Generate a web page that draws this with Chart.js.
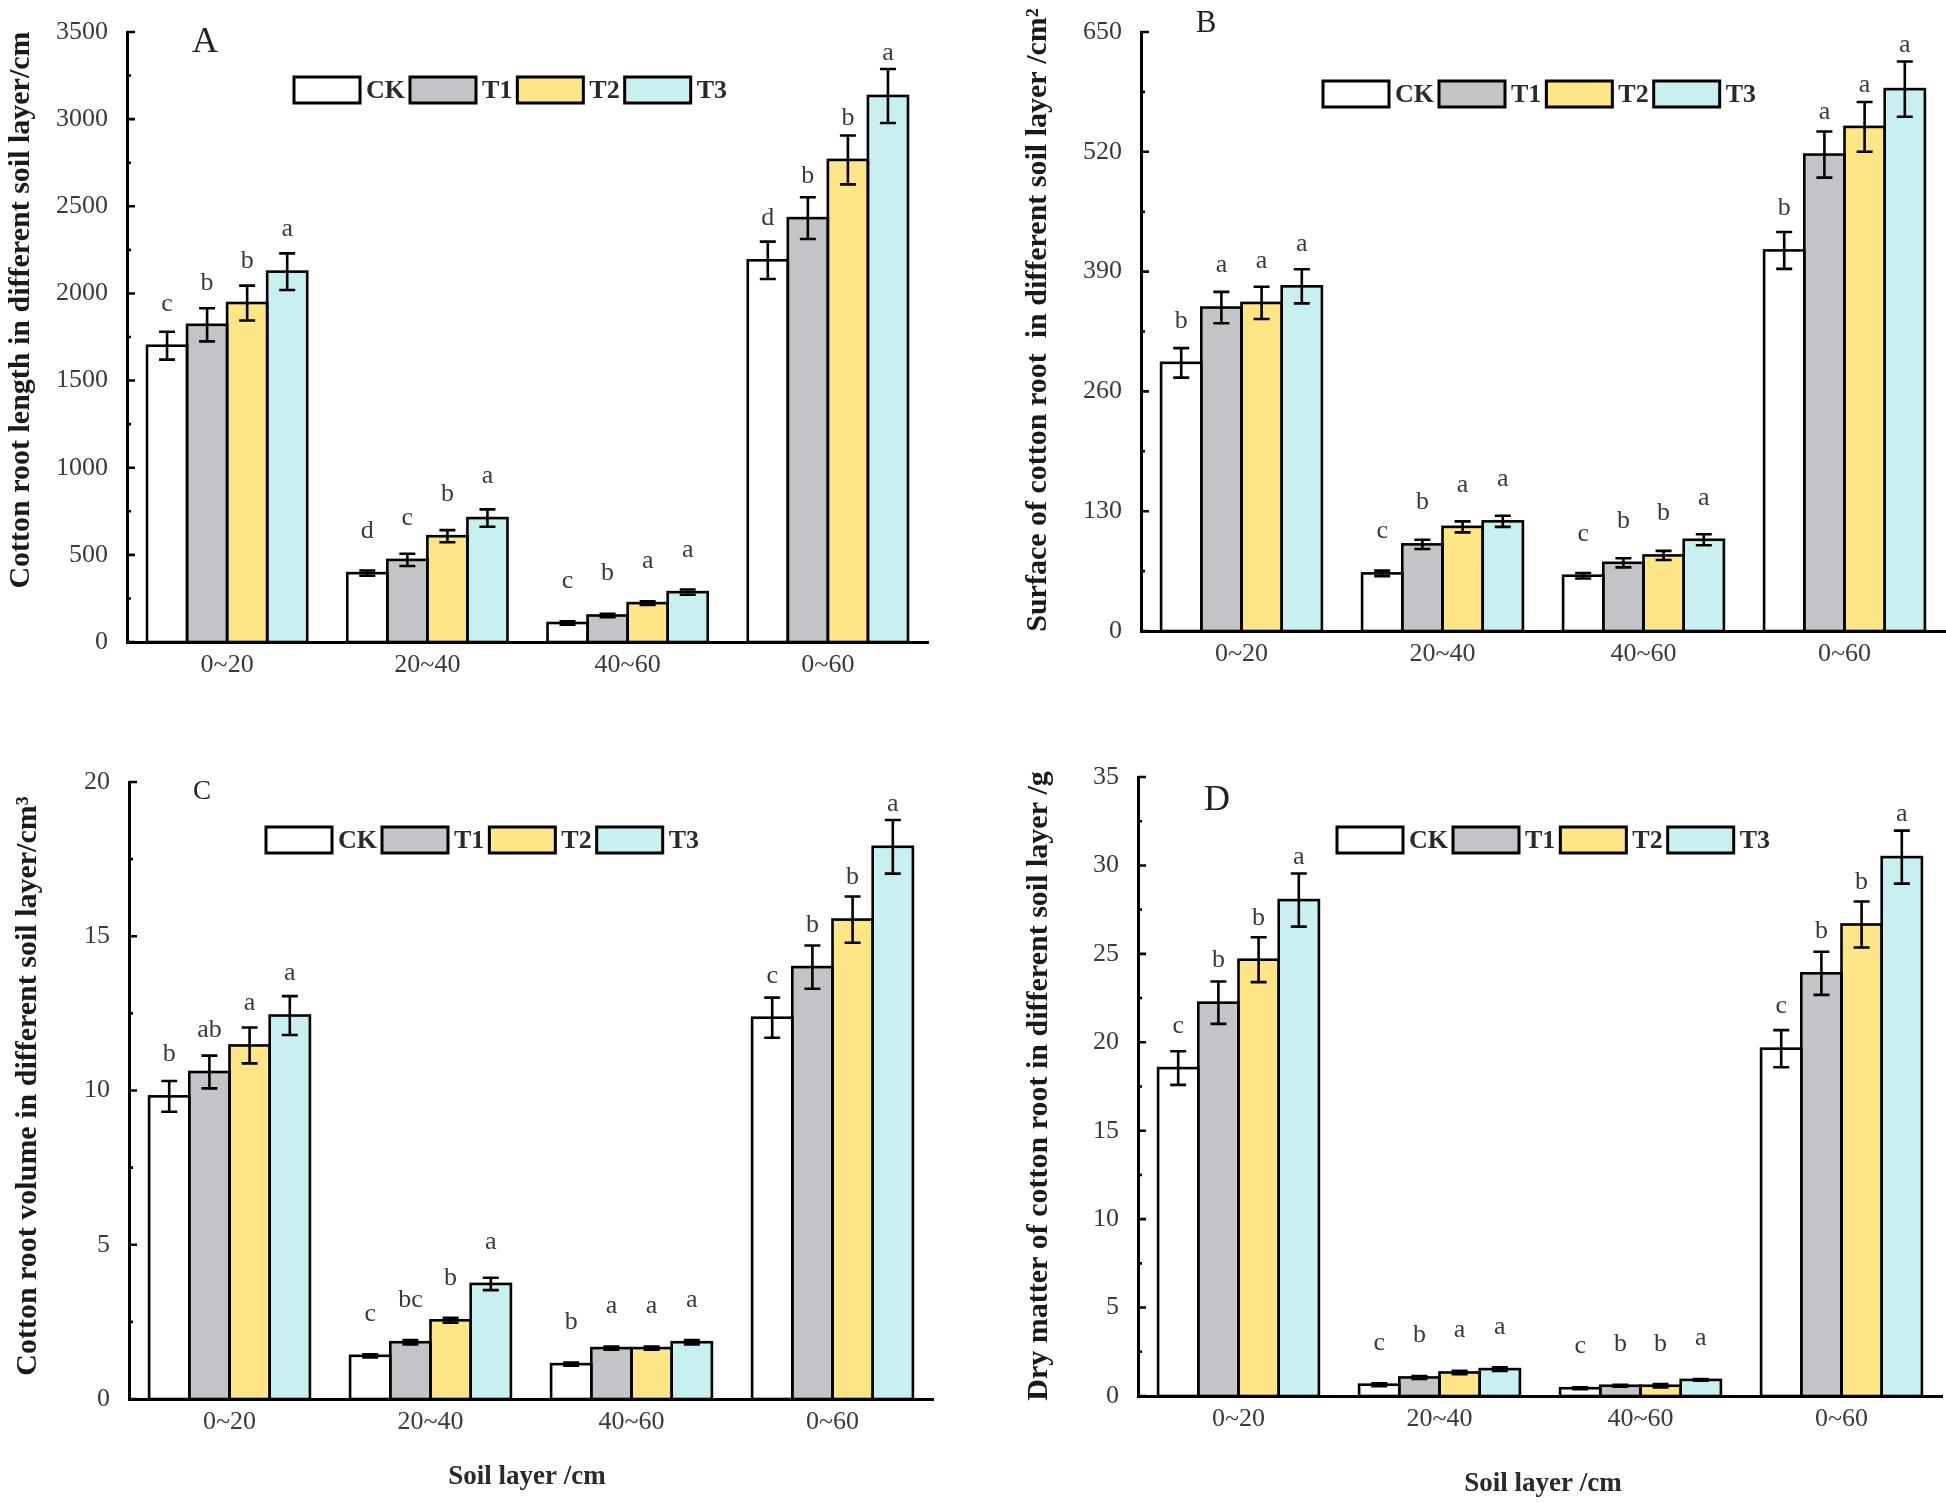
<!DOCTYPE html>
<html>
<head>
<meta charset="utf-8">
<title>Cotton root distribution by soil layer</title>
<script src="https://cdn.jsdelivr.net/npm/chart.js@4.4.1/dist/chart.umd.min.js"></script>
<style>
  html, body { margin: 0; padding: 0; background: #fff; }
  #page { position: relative; width: 1946px; height: 1503px; background: #fff; }
  #page canvas { position: absolute; }
</style>
</head>
<body>
<div id="page">
  <canvas id="chartA" width="973" height="740" style="left:0;top:0"></canvas>
  <canvas id="chartB" width="973" height="740" style="left:973px;top:0"></canvas>
  <canvas id="chartC" width="973" height="763" style="left:0;top:740px"></canvas>
  <canvas id="chartD" width="973" height="763" style="left:973px;top:740px"></canvas>
</div>
<script>
// ---- data ----
const layers = ['0~20', '20~40', '40~60', '0~60'];
const treatments = ['CK', 'T1', 'T2', 'T3'];

// A: root length (cm)
const lengthCK = [1700, 395, 109, 2190];
const lengthT1 = [1820, 471, 152, 2432];
const lengthT2 = [1945, 607, 223, 2766];
const lengthT3 = [2125, 711, 286, 3133];
const lengthErrCK = [80, 15, 10, 107];
const lengthErrT1 = [95, 35, 10, 120];
const lengthErrT2 = [100, 35, 10, 140];
const lengthErrT3 = [105, 50, 15, 155];
const lengthSigCK = ['c', 'd', 'c', 'd'];
const lengthSigT1 = ['b', 'c', 'b', 'b'];
const lengthSigT2 = ['b', 'b', 'a', 'b'];
const lengthSigT3 = ['a', 'a', 'a', 'a'];
const lengthTicks = [0, 500, 1000, 1500, 2000, 2500, 3000, 3500];

// B: root surface (cm2)
const surfaceCK = [291, 62.5, 60, 413];
const surfaceT1 = [351, 94, 74, 517];
const surfaceT2 = [356, 113, 82, 547];
const surfaceT3 = [374, 119, 99, 588];
const surfaceErrCK = [16, 3, 3, 20];
const surfaceErrT1 = [17, 5, 5, 25];
const surfaceErrT2 = [17.5, 6, 5, 27];
const surfaceErrT3 = [18.5, 6, 6, 30];
const surfaceSigCK = ['b', 'c', 'c', 'b'];
const surfaceSigT1 = ['a', 'b', 'b', 'a'];
const surfaceSigT2 = ['a', 'a', 'b', 'a'];
const surfaceSigT3 = ['a', 'a', 'a', 'a'];
const surfaceTicks = [0, 130, 260, 390, 520, 650];

// C: root volume (cm3)
const volumeCK = [9.81, 1.40, 1.13, 12.36];
const volumeT1 = [10.6, 1.84, 1.65, 14.0];
const volumeT2 = [11.46, 2.55, 1.65, 15.54];
const volumeT3 = [12.43, 3.73, 1.84, 17.9];
const volumeErrCK = [0.5, 0.05, 0.05, 0.65];
const volumeErrT1 = [0.53, 0.07, 0.05, 0.7];
const volumeErrT2 = [0.58, 0.08, 0.05, 0.75];
const volumeErrT3 = [0.63, 0.2, 0.07, 0.87];
const volumeSigCK = ['b', 'c', 'b', 'c'];
const volumeSigT1 = ['ab', 'bc', 'a', 'b'];
const volumeSigT2 = ['a', 'b', 'a', 'b'];
const volumeSigT3 = ['a', 'a', 'a', 'a'];
const volumeTicks = [0, 5, 10, 15, 20];

// D: root dry matter (g)
const dryCK = [18.54, 0.64, 0.44, 19.64];
const dryT1 = [22.24, 1.05, 0.58, 23.9];
const dryT2 = [24.67, 1.33, 0.58, 26.66];
const dryT3 = [28.04, 1.52, 0.91, 30.47];
const dryErrCK = [0.95, 0.08, 0.05, 1.05];
const dryErrT1 = [1.2, 0.08, 0.05, 1.22];
const dryErrT2 = [1.27, 0.1, 0.1, 1.3];
const dryErrT3 = [1.5, 0.1, 0.05, 1.5];
const drySigCK = ['c', 'c', 'c', 'c'];
const drySigT1 = ['b', 'b', 'b', 'b'];
const drySigT2 = ['b', 'a', 'b', 'b'];
const drySigT3 = ['a', 'a', 'a', 'a'];
const dryTicks = [0, 5, 10, 15, 20, 25, 30, 35];

const fills = ['#ffffff', '#c4c4c8', '#fee686', '#c9f0f0'];
const SERIF = "'Liberation Serif', 'Times New Roman', serif";

Chart.defaults.font.family = SERIF;

// outlines, error bars, letters, inward ticks, legend, titles
const panelDecor = {
    id: 'panelDecor',
    afterDatasetsDraw(chart) {
        const ctx = chart.ctx;
        const yScale = chart.scales.y;
        ctx.save();
        ctx.strokeStyle = '#000';
        ctx.lineWidth = 2.6;
        chart.data.datasets.forEach((ds, di) => {
            chart.getDatasetMeta(di).data.forEach(bar => {
                const { x, y, base, width } = bar.getProps(['x', 'y', 'base', 'width'], true);
                ctx.strokeRect(x - width / 2, y, width, base - y);
            });
        });
        chart.data.datasets.forEach((ds, di) => {
            chart.getDatasetMeta(di).data.forEach((bar, i) => {
                const v = ds.data[i];
                const e = ds.errors[i];
                const x = bar.x;
                const top = yScale.getPixelForValue(v + e);
                const bot = yScale.getPixelForValue(v - e);
                ctx.lineWidth = 2.6;
                ctx.beginPath();
                ctx.moveTo(x, top); ctx.lineTo(x, bot);
                ctx.moveTo(x - 8, top); ctx.lineTo(x + 8, top);
                ctx.moveTo(x - 8, bot); ctx.lineTo(x + 8, bot);
                ctx.stroke();
                // significance letter sits a fixed distance above the bar top
                ctx.fillStyle = '#3a3a3a';
                ctx.font = '26px ' + SERIF;
                ctx.textAlign = 'center';
                ctx.textBaseline = 'middle';
                ctx.fillText(ds.letters[i], x, Math.min(bar.y - 42, top - 16));
            });
        });
        ctx.restore();
    },
    afterDraw(chart, args, opts) {
        const ctx = chart.ctx;
        const area = chart.chartArea;
        const yScale = chart.scales.y;
        ctx.save();
        // inward major / minor ticks
        ctx.strokeStyle = '#000';
        ctx.lineWidth = 2.6;
        ctx.beginPath();
        opts.ticks.forEach((t, i) => {
            const py = yScale.getPixelForValue(t);
            ctx.moveTo(area.left, py); ctx.lineTo(area.left + 8, py);
            if (i < opts.ticks.length - 1) {
                const my = yScale.getPixelForValue((t + opts.ticks[i + 1]) / 2);
                ctx.moveTo(area.left, my); ctx.lineTo(area.left + 4, my);
            }
        });
        ctx.stroke();

        // panel letter
        ctx.fillStyle = '#222';
        ctx.textAlign = 'center';
        ctx.textBaseline = 'middle';
        ctx.font = opts.tagSize + 'px ' + SERIF;
        ctx.fillText(opts.tag, opts.tagX, opts.tagY);

        // legend
        ctx.font = 'bold 26px ' + SERIF;
        ctx.textAlign = 'left';
        let lx = opts.legendX;
        chart.data.datasets.forEach((ds, i) => {
            ctx.fillStyle = fills[i];
            ctx.fillRect(lx, opts.legendY - 13, 66, 26);
            ctx.lineWidth = 3;
            ctx.strokeRect(lx, opts.legendY - 13, 66, 26);
            lx += 72;
            ctx.fillStyle = '#2a2a2a';
            ctx.fillText(ds.label, lx, opts.legendY + 1);
            lx += ctx.measureText(ds.label).width + 5;
        });

        // y title
        ctx.save();
        ctx.translate(opts.yTitleX, opts.yTitleY);
        ctx.rotate(-Math.PI / 2);
        ctx.font = 'bold 30px ' + SERIF;
        ctx.textAlign = 'center';
        ctx.fillStyle = '#1a1a1a';
        ctx.fillText(opts.yTitle, 0, 0);
        ctx.restore();

        // x title
        if (opts.xTitle) {
            ctx.font = 'bold 27px ' + SERIF;
            ctx.textAlign = 'center';
            ctx.fillStyle = '#2a2a2a';
            ctx.fillText(opts.xTitle, opts.xTitleX, opts.xTitleY);
        }
        ctx.restore();
    }
};

function makePanel(id, series, errors, sigs, ticks, box, decor) {
    const tickFont = { size: 26, lineHeight: 1 };
    new Chart(document.getElementById(id), {
        type: 'bar',
        data: {
            labels: layers,
            datasets: treatments.map((t, i) => ({
                label: t,
                data: series[i],
                errors: errors[i],
                letters: sigs[i],
                backgroundColor: fills[i],
                borderWidth: 0,
                categoryPercentage: 0.8,
                barPercentage: 1.0
            }))
        },
        options: {
            responsive: false,
            animation: false,
            layout: { padding: { top: box.top, right: box.right, left: 0, bottom: 0 } },
            plugins: {
                legend: { display: false },
                tooltip: { enabled: false },
                panelDecor: Object.assign({ ticks: ticks }, decor)
            },
            scales: {
                x: {
                    grid: { display: false, drawTicks: false },
                    border: { display: true, color: '#000', width: 3 },
                    ticks: { padding: 10, color: '#3a3a3a', font: tickFont },
                    afterFit: s => { s.height = box.xHeight; }
                },
                y: {
                    min: 0,
                    max: ticks[ticks.length - 1],
                    grid: { display: false, drawTicks: false },
                    border: { display: true, color: '#000', width: 3 },
                    ticks: { padding: 19, color: '#3a3a3a', font: tickFont, callback: v => String(v) },
                    afterBuildTicks: s => { s.ticks = ticks.map(v => ({ value: v })); },
                    afterFit: s => { s.width = box.left; }
                }
            }
        },
        plugins: [panelDecor]
    });
}

makePanel('chartA',
    [lengthCK, lengthT1, lengthT2, lengthT3],
    [lengthErrCK, lengthErrT1, lengthErrT2, lengthErrT3],
    [lengthSigCK, lengthSigT1, lengthSigT2, lengthSigT3],
    lengthTicks,
    { left: 127, right: 45, top: 24, xHeight: 98 },
    { tag: 'A', tagSize: 36, tagX: 205, tagY: 43, legendX: 294, legendY: 90,
      yTitle: 'Cotton root length in different soil layer/cm', yTitleX: 21, yTitleY: 310 });

makePanel('chartB',
    [surfaceCK, surfaceT1, surfaceT2, surfaceT3],
    [surfaceErrCK, surfaceErrT1, surfaceErrT2, surfaceErrT3],
    [surfaceSigCK, surfaceSigT1, surfaceSigT2, surfaceSigT3],
    surfaceTicks,
    { left: 168, right: 1, top: 14, xHeight: 109 },
    { tag: 'B', tagSize: 31, tagX: 233, tagY: 24, legendX: 350, legendY: 94,
      yTitle: 'Surface of cotton root  in different soil layer /cm\u00B2', yTitleX: 65, yTitleY: 320 });

makePanel('chartC',
    [volumeCK, volumeT1, volumeT2, volumeT3],
    [volumeErrCK, volumeErrT1, volumeErrT2, volumeErrT3],
    [volumeSigCK, volumeSigT1, volumeSigT2, volumeSigT3],
    volumeTicks,
    { left: 129, right: 40, top: 42, xHeight: 104 },
    { tag: 'C', tagSize: 27, tagX: 202, tagY: 52, legendX: 266, legendY: 100,
      yTitle: 'Cotton root volume in different soil layer/cm\u00B3', yTitleX: 28, yTitleY: 346,
      xTitle: 'Soil layer /cm', xTitleX: 527, xTitleY: 737 });

makePanel('chartD',
    [dryCK, dryT1, dryT2, dryT3],
    [dryErrCK, dryErrT1, dryErrT2, dryErrT3],
    [drySigCK, drySigT1, drySigT2, drySigT3],
    dryTicks,
    { left: 165, right: 4, top: 37, xHeight: 107 },
    { tag: 'D', tagSize: 36, tagX: 244, tagY: 61, legendX: 364, legendY: 100,
      yTitle: 'Dry matter of cotton root in different soil layer /g', yTitleX: 66, yTitleY: 346,
      xTitle: 'Soil layer /cm', xTitleX: 570, xTitleY: 744 });
</script>
</body>
</html>
